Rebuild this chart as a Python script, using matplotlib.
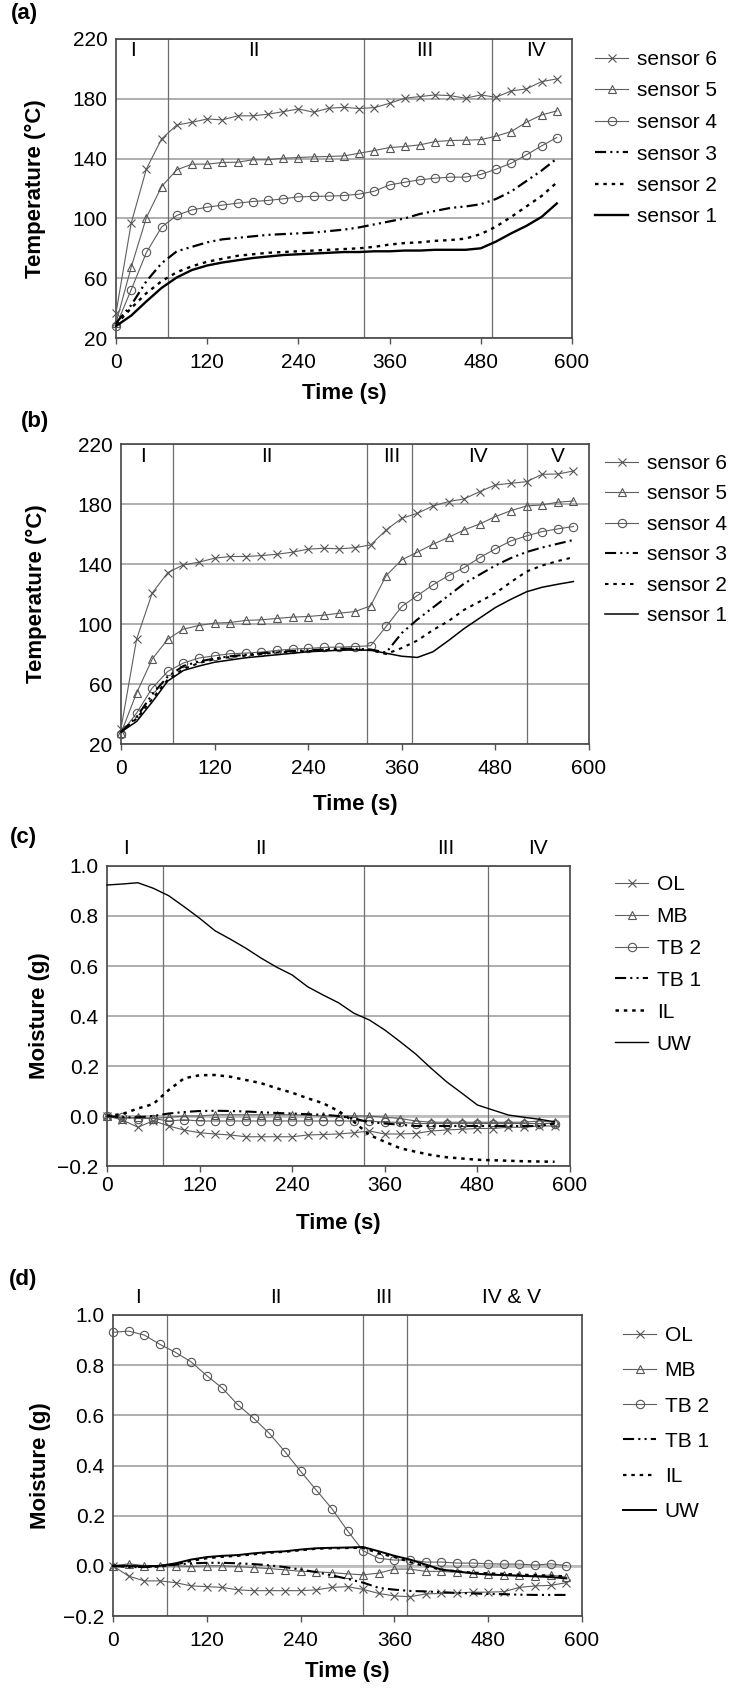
import matplotlib
matplotlib.use('Agg')
import matplotlib.pyplot as plt
import matplotlib.transforms as mtransforms

plt.rcParams['font.family'] = ['Liberation Sans', 'DejaVu Sans']
plt.rcParams['lines.scale_dashes'] = False

# sample times (s), every 20 s
time = [0, 20, 40, 60, 80, 100, 120, 140, 160, 180, 200, 220, 240, 260, 280,
        300, 320, 340, 360, 380, 400, 420, 440, 460, 480, 500, 520, 540, 560, 580]

# (a) temperatures, deg C
a_s6 = [36.7, 96.8, 133.1, 153.2, 162.5, 164.3, 166.5, 165.9, 168.6, 168.6, 169.7, 171.4, 173.2, 171.0, 173.7,
        174.3, 173.5, 174.1, 177.0, 180.4, 181.5, 182.6, 182.1, 180.4, 182.6, 181.0, 185.3, 186.6, 191.5, 193.3]
a_s5 = [30.0, 67.4, 100.6, 121.3, 132.5, 136.3, 136.3, 137.4, 137.6, 139.2, 139.2, 140.3, 140.7, 141.2, 141.4,
        141.8, 143.6, 145.4, 147.4, 148.1, 149.2, 151.4, 152.1, 152.3, 152.7, 155.0, 158.1, 164.3, 169.2, 171.9]
a_s4 = [28.0, 52.3, 77.2, 94.2, 102.0, 105.7, 107.5, 108.9, 110.2, 111.3, 112.0, 113.1, 114.4, 114.7, 114.9,
        115.3, 116.2, 118.2, 122.4, 124.2, 125.8, 126.9, 127.6, 127.6, 129.4, 132.9, 136.9, 142.5, 148.5, 154.1]
a_s3 = [30.0, 42.0, 58.0, 70.0, 78.0, 81.0, 84.0, 86.0, 87.0, 88.0, 89.0, 89.5, 90.0, 90.5, 91.5,
        92.5, 94.0, 96.0, 98.0, 100.0, 103.0, 105.0, 107.0, 108.0, 109.5, 113.0, 118.0, 125.0, 132.0, 140.0]
a_s2 = [29.0, 40.0, 50.0, 58.0, 64.0, 68.0, 71.0, 73.0, 75.0, 76.0, 77.0, 77.5, 78.0, 78.5, 79.0,
        79.5, 80.0, 81.0, 82.5, 83.5, 84.0, 85.0, 85.5, 86.5, 89.5, 94.5, 101.0, 108.0, 115.0, 124.0]
a_s1 = [28.0, 35.0, 44.5, 53.5, 60.5, 65.5, 68.5, 70.5, 72.0, 73.5, 74.5, 75.5, 76.0, 76.5, 77.0,
        77.5, 77.5, 78.0, 78.0, 78.5, 78.5, 79.0, 79.0, 79.0, 80.0, 84.5, 90.0, 95.0, 101.0, 110.0]
a_phase = [68, 326, 495]
a_roman = ['I', 'II', 'III', 'IV']

# (b) temperatures, deg C
b_s6 = [30.2, 89.9, 120.6, 134.3, 139.4, 141.2, 143.9, 145.0, 145.0, 145.6, 146.5, 147.9, 149.9, 150.5, 150.1,
        150.9, 152.7, 162.7, 170.5, 173.8, 178.7, 181.6, 183.4, 188.3, 192.7, 193.8, 194.9, 199.8, 200.0, 202.0]
b_s5 = [27.3, 54.0, 76.6, 89.9, 96.6, 99.0, 100.6, 101.0, 102.4, 102.8, 103.7, 104.6, 105.0, 105.9, 107.2,
        108.3, 112.1, 132.3, 142.8, 147.9, 153.2, 157.8, 162.7, 166.7, 171.6, 175.6, 178.7, 179.4, 181.2, 182.0]
b_s4 = [27.0, 40.6, 57.3, 68.4, 74.0, 77.3, 78.8, 80.2, 80.6, 81.3, 82.4, 83.3, 83.7, 84.4, 84.6,
        85.0, 85.5, 98.4, 111.7, 119.0, 126.1, 132.3, 137.6, 144.3, 150.1, 155.4, 158.7, 161.6, 163.4, 165.0]
b_s3 = [28.0, 38.0, 53.0, 65.0, 72.0, 75.0, 77.0, 78.5, 79.5, 80.5, 81.5, 82.0, 82.5, 83.0, 83.5,
        83.5, 83.0, 81.0, 94.0, 103.0, 111.0, 119.0, 127.0, 133.0, 139.0, 144.0, 148.0, 151.0, 153.5, 156.0]
b_s2 = [28.0, 37.0, 50.0, 63.0, 70.0, 74.0, 76.5, 78.0, 79.0, 80.0, 81.0, 81.5, 82.0, 82.5, 83.0,
        83.0, 82.5, 80.0, 84.0, 89.0, 96.0, 102.0, 109.5, 115.0, 120.5, 128.0, 135.0, 139.0, 142.0, 144.5]
b_s1 = [28.0, 35.0, 48.0, 62.0, 69.0, 72.0, 74.5, 76.0, 77.5, 78.5, 79.5, 80.5, 81.5, 82.0, 82.5,
        82.7, 82.5, 80.5, 78.5, 77.7, 81.5, 89.0, 97.0, 104.0, 111.0, 116.5, 121.5, 124.5, 126.5, 128.3]
b_phase = [67, 315, 373, 520]
b_roman = ['I', 'II', 'III', 'IV', 'V']

# (c) moisture, g
c_ol = [0.0, -0.016, -0.045, -0.019, -0.04, -0.056, -0.067, -0.072, -0.076, -0.083, -0.083, -0.083, -0.083, -0.076, -0.074,
        -0.072, -0.067, -0.06, -0.072, -0.072, -0.07, -0.06, -0.056, -0.053, -0.05, -0.05, -0.045, -0.045, -0.04, -0.04]
c_mb = [0.0, -0.01, -0.005, -0.01, -0.005, 0.0, 0.0, 0.005, 0.005, 0.005, 0.005, 0.005, 0.005, 0.003, 0.0,
        0.0, 0.0, 0.0, -0.005, -0.01, -0.02, -0.025, -0.025, -0.025, -0.025, -0.025, -0.025, -0.025, -0.02, -0.025]
c_tb2 = [0.0, -0.005, -0.01, -0.01, -0.02, -0.015, -0.02, -0.02, -0.02, -0.02, -0.02, -0.02, -0.02, -0.02, -0.02,
         -0.02, -0.02, -0.02, -0.025, -0.025, -0.03, -0.03, -0.03, -0.03, -0.03, -0.03, -0.03, -0.03, -0.03, -0.03]
c_tb1 = [0.0, -0.005, -0.005, 0.0, 0.01, 0.016, 0.02, 0.021, 0.02, 0.018, 0.015, 0.012, 0.01, 0.007, 0.005,
         0.0, -0.01, -0.025, -0.03, -0.035, -0.04, -0.04, -0.04, -0.04, -0.04, -0.04, -0.04, -0.04, -0.04, -0.03]
c_il = [0.0, 0.008, 0.03, 0.048, 0.104, 0.151, 0.163, 0.164, 0.157, 0.144, 0.131, 0.111, 0.093, 0.071, 0.051,
        0.02, -0.023, -0.076, -0.103, -0.129, -0.143, -0.156, -0.165, -0.17, -0.175, -0.177, -0.179, -0.181, -0.182, -0.183]
c_uw = [0.924, 0.928, 0.933, 0.911, 0.881, 0.837, 0.791, 0.741, 0.707, 0.671, 0.631, 0.595, 0.564, 0.517, 0.484,
        0.453, 0.411, 0.384, 0.344, 0.297, 0.248, 0.191, 0.137, 0.091, 0.044, 0.024, 0.004, -0.005, -0.013, -0.023]
c_phase = [73, 333, 494]
c_roman = ['I', 'II', 'III', 'IV']

# (d) moisture, g
d_ol = [0.0, -0.041, -0.06, -0.06, -0.067, -0.08, -0.083, -0.086, -0.096, -0.099, -0.099, -0.099, -0.099, -0.096, -0.086,
        -0.083, -0.094, -0.11, -0.12, -0.123, -0.112, -0.11, -0.108, -0.105, -0.105, -0.103, -0.086, -0.08, -0.078, -0.067]
d_mb = [0.0, 0.008, 0.001, 0.0, 0.0, -0.003, 0.0, 0.0, -0.003, -0.007, -0.011, -0.016, -0.022, -0.024, -0.027,
        -0.032, -0.036, -0.029, -0.013, -0.013, -0.022, -0.022, -0.026, -0.029, -0.032, -0.036, -0.037, -0.04, -0.037, -0.045]
d_tb2 = [0.931, 0.936, 0.92, 0.883, 0.851, 0.813, 0.758, 0.708, 0.641, 0.588, 0.528, 0.455, 0.377, 0.302, 0.228,
         0.14, 0.06, 0.03, 0.023, 0.023, 0.015, 0.015, 0.011, 0.011, 0.008, 0.007, 0.007, 0.003, 0.008, 0.001]
d_tb1 = [0.0, -0.005, -0.005, 0.0, 0.005, 0.01, 0.012, 0.012, 0.01, 0.007, 0.002, -0.005, -0.015, -0.025, -0.038,
         -0.052, -0.067, -0.088, -0.095, -0.1, -0.102, -0.105, -0.108, -0.11, -0.112, -0.113, -0.115, -0.116, -0.116, -0.116]
d_il = [0.0, -0.002, -0.005, -0.003, 0.005, 0.02, 0.03, 0.036, 0.04, 0.046, 0.052, 0.056, 0.062, 0.068, 0.07,
        0.071, 0.072, 0.05, 0.035, 0.015, -0.002, -0.015, -0.022, -0.027, -0.03, -0.032, -0.035, -0.037, -0.039, -0.042]
d_uw = [0.0, 0.0, -0.002, 0.0, 0.01, 0.025, 0.035, 0.04, 0.043, 0.05, 0.055, 0.058, 0.065, 0.07, 0.072,
        0.073, 0.075, 0.058, 0.04, 0.025, 0.005, -0.015, -0.022, -0.03, -0.035, -0.037, -0.04, -0.042, -0.045, -0.05]
d_phase = [69, 320, 376]
d_roman = ['I', 'II', 'III', 'IV & V']

temp_labels = ['sensor 6', 'sensor 5', 'sensor 4', 'sensor 3', 'sensor 2', 'sensor 1']
moist_labels = ['OL', 'MB', 'TB 2', 'TB 1', 'IL', 'UW']

W, H = 733, 1691
fig = plt.figure(figsize=(W / 100, H / 100), dpi=100)

GRAY = '#5e5e5e'
DASHDOT = (0, (8, 3, 1.5, 3, 1.5, 3))
DOTTED = (0, (2.5, 3.5))


def styles(thick):
    ''' line styles for the six series, top to bottom of the legend '''
    mk = dict(color=GRAY, lw=0.8, mfc='none', mec='#555555', mew=0.8, ms=6)
    return [dict(marker='x', **mk), dict(marker='^', **mk), dict(marker='o', **mk),
            dict(color='black', lw=thick[0], ls=DASHDOT),
            dict(color='black', lw=thick[1], ls=DOTTED),
            dict(color='black', lw=thick[2], ls='-')]


def make_axes(x0, y0, x1, y1):
    return fig.add_axes([x0 / W, 1 - y1 / H, (x1 - x0) / W, (y1 - y0) / H])


def draw_panel(ax, series, labels, thick, phases, romans, roman_x, roman_y,
               ylim, yticks, ylabel, ylab_x, xlab_y, xpad, leg_xy, leg_space):
    for vals, lab, st in zip(series, labels, styles(thick)):
        ax.plot(time, vals, label=lab, clip_on=False, zorder=3, **st)
    for p in phases:
        ax.axvline(p, color='#6e6e6e', lw=0.9, zorder=2)
    trans = mtransforms.blended_transform_factory(ax.transData, ax.transAxes)
    for r, rx in zip(romans, roman_x):
        ax.text(rx, roman_y, r, transform=trans, ha='center', va='center', fontsize=15)

    ax.set_xlim(0, 600)
    ax.set_xticks([0, 120, 240, 360, 480, 600])
    ax.set_ylim(*ylim)
    ax.set_yticks(yticks)
    ax.yaxis.grid(True, color='#a8a8a8', lw=1.3)
    ax.set_axisbelow(True)
    for s in ax.spines.values():
        s.set_color('#444444')
        s.set_linewidth(1.2)
    ax.tick_params(axis='x', direction='out', length=4.5, width=1, color='#555555',
                   pad=xpad, labelsize=15)
    ax.tick_params(axis='y', length=0, pad=6, labelsize=15)
    ax.set_xlabel('Time (s)', fontsize=16, fontweight='bold', va='center')
    ax.xaxis.set_label_coords(0.5, xlab_y)
    ax.set_ylabel(ylabel, fontsize=16, fontweight='bold', va='center')
    ax.yaxis.set_label_coords(ylab_x, 0.5)

    ax.legend(loc='upper left', bbox_to_anchor=(leg_xy[0] / W, 1 - leg_xy[1] / H),
              bbox_transform=fig.transFigure, frameon=False, fontsize=15,
              borderpad=0, borderaxespad=0, handlelength=1.6, handletextpad=0.4,
              labelspacing=leg_space, numpoints=1)


temp_ticks = [20, 60, 100, 140, 180, 220]
moist_ticks = [-0.2, 0.0, 0.2, 0.4, 0.6, 0.8, 1.0]

ax_a = make_axes(116, 39, 572, 338)
draw_panel(ax_a, [a_s6, a_s5, a_s4, a_s3, a_s2, a_s1], temp_labels, (1.6, 1.7, 1.7),
           a_phase, a_roman, [23, 182, 406, 552], 0.963,
           (20, 220), temp_ticks, 'Temperature (°C)', -0.177, -0.184, 6.5, (595, 50), 0.6)

ax_b = make_axes(121, 444, 589, 744)
draw_panel(ax_b, [b_s6, b_s5, b_s4, b_s3, b_s2, b_s1], temp_labels, (1.5, 1.5, 1.1),
           b_phase, b_roman, [28, 187, 347, 458, 560], 0.957,
           (20, 220), temp_ticks, 'Temperature (°C)', -0.18, -0.203, 6.5, (605, 454), 0.55)

ax_c = make_axes(107, 866, 570, 1166)
draw_panel(ax_c, [c_ol, c_mb, c_tb2, c_tb1, c_il, c_uw], moist_labels, (1.5, 1.8, 1.0),
           c_phase, c_roman, [24, 199, 439, 559], 1.059,
           (-0.2, 1.0), moist_ticks, 'Moisture (g)', -0.145, -0.19, 2.5, (615, 875), 0.62)
ax_c.axhline(0, color='#bdbdbd', lw=2, zorder=1)

ax_d = make_axes(113, 1315, 582, 1616)
draw_panel(ax_d, [d_ol, d_mb, d_tb2, d_tb1, d_il, d_uw], moist_labels, (1.5, 1.6, 1.4),
           d_phase, d_roman, [32, 209, 347, 510], 1.057,
           (-0.2, 1.0), moist_ticks, 'Moisture (g)', -0.154, -0.186, 6.5, (623, 1326), 0.78)
ax_d.axhline(0, color='#bdbdbd', lw=2, zorder=1)

for lab, x, y in [('(a)', 11, 14), ('(b)', 21, 422), ('(c)', 10, 838), ('(d)', 9, 1280)]:
    fig.text(x / W, 1 - y / H, lab, ha='left', va='center', fontsize=16, fontweight='bold')

fig.savefig('out.png', dpi=100)
